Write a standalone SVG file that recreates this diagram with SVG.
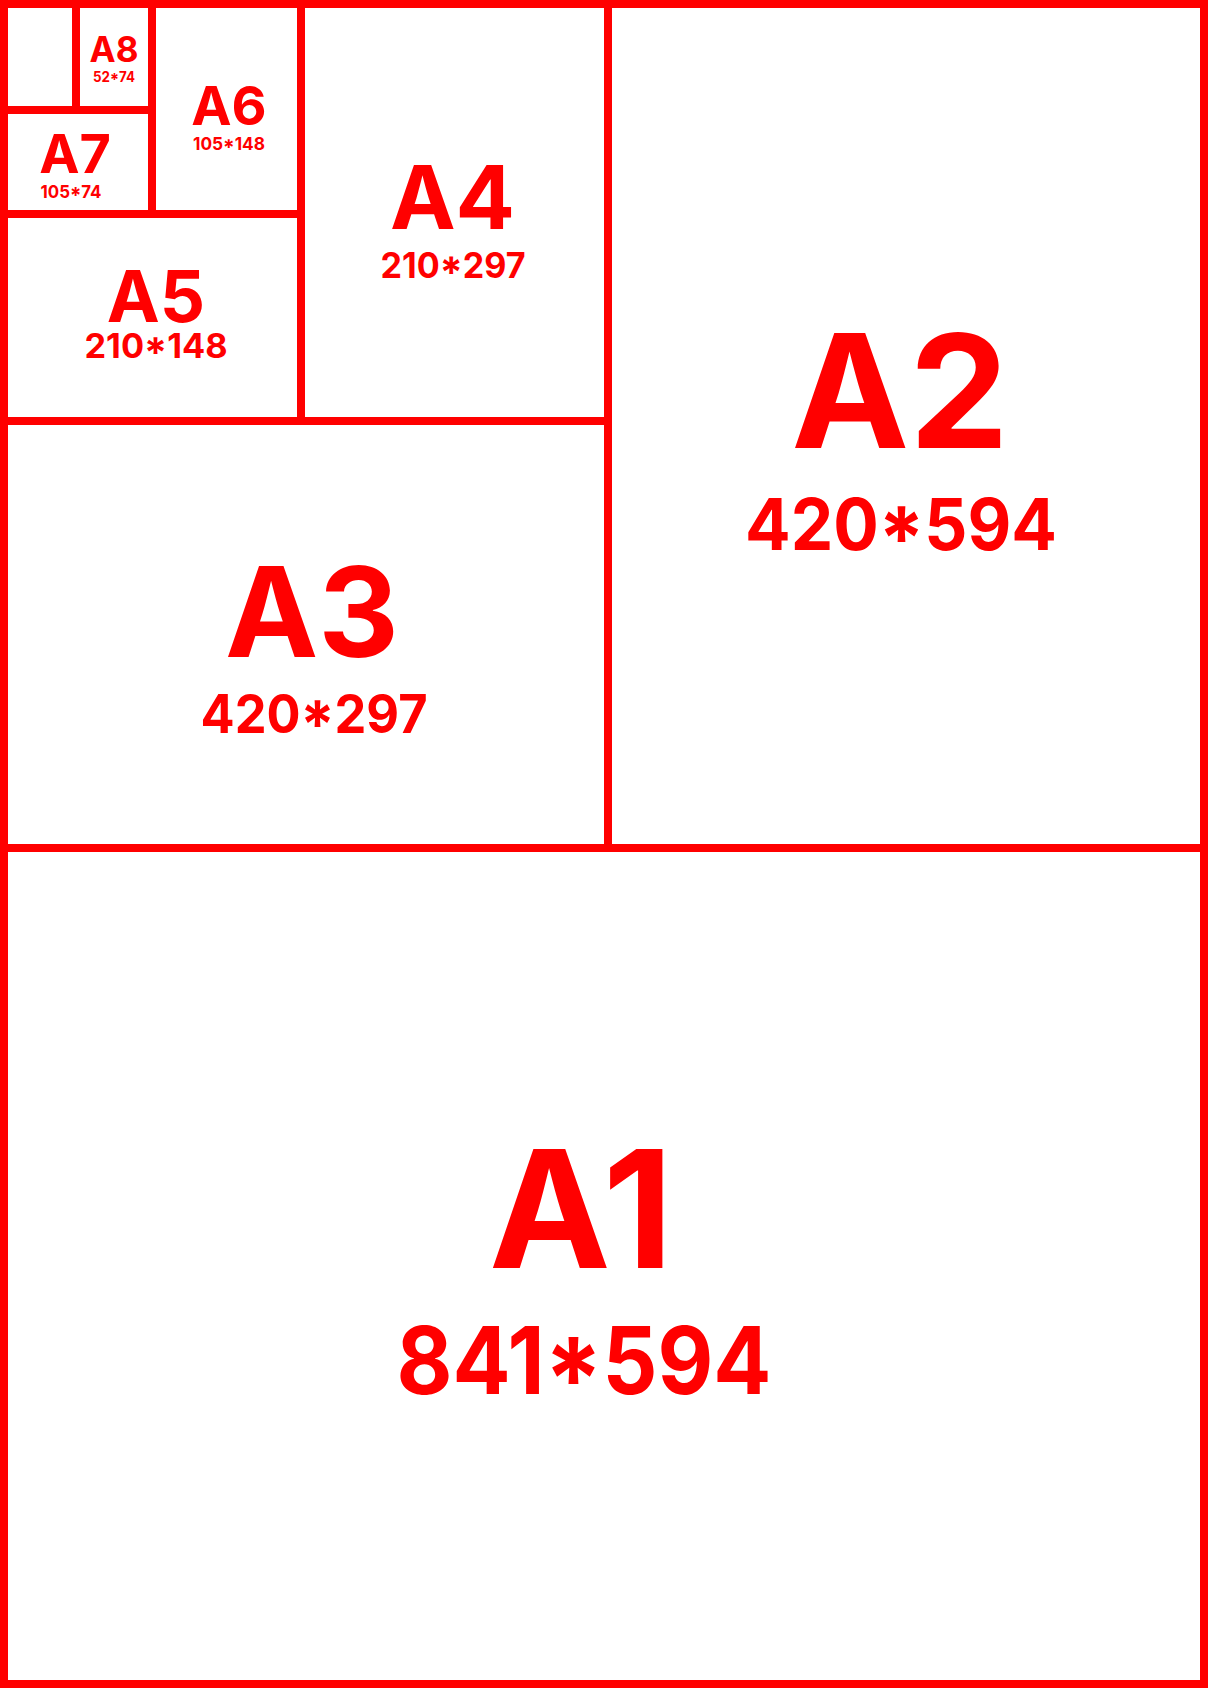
<svg xmlns="http://www.w3.org/2000/svg" width="1209" height="1688" viewBox="0 0 1209 1688">
<style>
.p{fill:#fff;stroke:#ff0000;stroke-width:8}
text{font-family:Inter,"Liberation Sans",sans-serif;font-weight:700;fill:#ff0000;text-anchor:middle}
.n{lengthAdjust:spacingAndGlyphs}
</style>
<rect x="0" y="0" width="1209" height="1688" fill="#fff"/>
<g id="A1"><rect class="p" x="4" y="848" width="1200" height="836"/><text x="581" y="1268" font-size="163">A1</text><text x="584" y="1394" font-size="93" textLength="375" lengthAdjust="spacingAndGlyphs">841*594</text></g>
<g id="A2"><rect class="p" x="608" y="4" width="596" height="844"/><text x="900" y="448" font-size="158">A2</text><text x="901" y="550" font-size="71" textLength="312" lengthAdjust="spacingAndGlyphs">420*594</text></g>
<g id="A3"><rect class="p" x="4" y="421" width="604" height="427"/><text x="312" y="657" font-size="125">A3</text><text x="314" y="733" font-size="53" textLength="227" lengthAdjust="spacingAndGlyphs">420*297</text></g>
<g id="A4"><rect class="p" x="301" y="4" width="307" height="417"/><text x="452.5" y="229" font-size="88">A4</text><text x="453" y="278" font-size="35" textLength="145" lengthAdjust="spacingAndGlyphs">210*297</text></g>
<g id="A5"><rect class="p" x="4" y="214" width="297" height="207"/><text x="156" y="322" font-size="71">A5</text><text x="156" y="358" font-size="33.5" textLength="143" lengthAdjust="spacingAndGlyphs">210*148</text></g>
<g id="A6"><rect class="p" x="152" y="4" width="149" height="210"/><text x="229" y="125" font-size="54">A6</text><text x="229" y="150" font-size="17.5" textLength="72" lengthAdjust="spacingAndGlyphs">105*148</text></g>
<g id="A7"><rect class="p" x="4" y="110" width="148" height="104"/><text x="75" y="173" font-size="54">A7</text><text x="71" y="198" font-size="18" textLength="61" lengthAdjust="spacingAndGlyphs">105*74</text></g>
<g id="A8"><rect class="p" x="76" y="4" width="76" height="106"/><text x="114" y="62" font-size="35">A8</text><text x="114" y="82" font-size="14" textLength="42" lengthAdjust="spacingAndGlyphs">52*74</text></g>
<g id="A9"><rect class="p" x="4" y="4" width="72" height="106"/></g>
<g id="connectors"></g>
</svg>
